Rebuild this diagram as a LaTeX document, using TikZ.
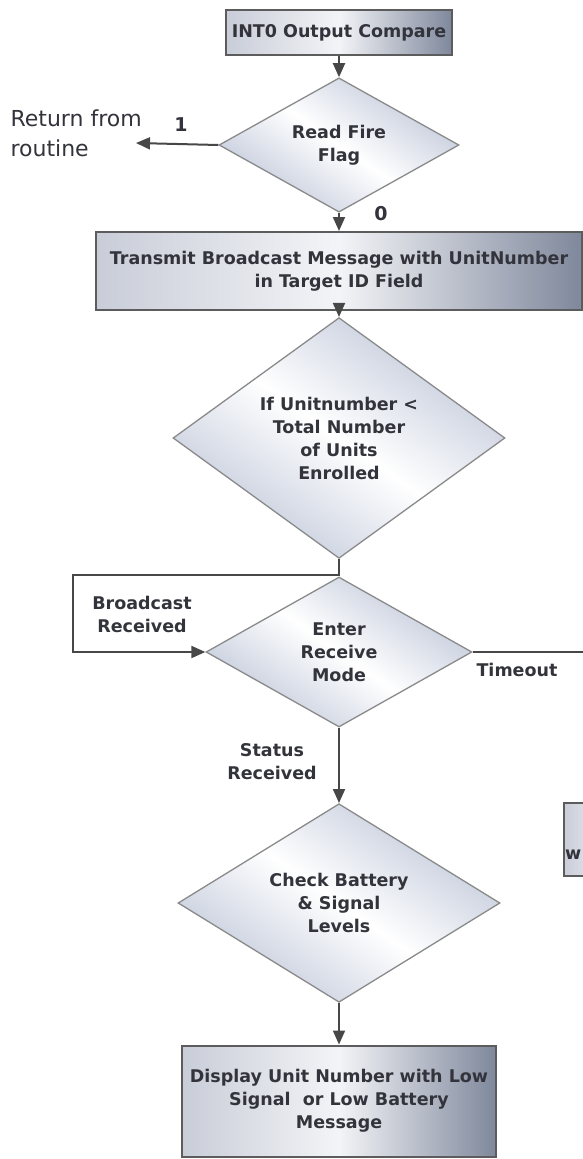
\documentclass[tikz,border=0pt]{standalone}
\usepackage{fontspec}
\setmainfont{DejaVu Sans}
\usetikzlibrary{shapes.geometric,arrows.meta}
\definecolor{boxedge}{HTML}{5C5C5C}
\definecolor{boxdark}{HTML}{7F889C}
\definecolor{boxlight}{HTML}{F3F4F7}
\definecolor{boxleft}{HTML}{C9CDD8}
\definecolor{diafill}{HTML}{BFC7D9}
\definecolor{diaedge}{HTML}{8A8A8A}
\definecolor{linegray}{HTML}{474747}
\definecolor{textgray}{HTML}{33333B}

\begin{document}
\begin{tikzpicture}[x=1pt,y=-1pt,>={Triangle[length=14pt,width=12pt]},
  procbox/.style={rectangle,draw=boxedge,line width=2pt,left color=boxleft,right color=boxdark,middle color=boxlight,
    align=center,inner sep=0pt,text=textgray,font=\bfseries\fontsize{17.5}{23}\selectfont},
  decide/.style={diamond,draw=diaedge,line width=1.3pt,top color=diafill,bottom color=diafill,middle color=white,
    shading angle=-35,align=center,inner sep=0pt,text=textgray,font=\bfseries\fontsize{17.5}{23}\selectfont},
  lbl/.style={align=center,text=textgray,font=\bfseries\fontsize{17.5}{23}\selectfont},
  flow/.style={draw=linegray,line width=2pt}]
\useasboundingbox (0,0) rectangle (583,1159);

\node[procbox,minimum width=226,minimum height=45] (int0) at (339,32.5) {INT0 Output Compare};
\node[decide,minimum width=240,minimum height=120] (readflag) at (339,145) {Read Fire\\Flag};
\node[procbox,minimum width=486,minimum height=78] (transmit) at (339,271) {Transmit Broadcast Message with UnitNumber\\in Target ID Field};
\node[decide,minimum width=332,minimum height=200] (ifunits) at (339,438) {If Unitnumber <\\Total Number\\of Units\\Enrolled};
\node[decide,minimum width=266,minimum height=150] (enter) at (339,652) {Enter\\Receive\\Mode};
\node[decide,minimum width=322,minimum height=190] (check) at (339,903) {Check Battery\\\& Signal\\Levels};
\node[procbox,minimum width=314,minimum height=111] (display) at (339,1101) {Display Unit Number with Low\\Signal\ \ or Low Battery\\Message};
\node[procbox,anchor=north west,minimum width=100,minimum height=73] (sidebox) at (563,802) {};
\node[lbl,anchor=west,inner sep=0pt] (sidetext) at (565,855) {w};

% labels
\node[anchor=west,align=left,text=textgray,font=\fontsize{22}{30}\selectfont] (ret) at (7,133) {Return from\\routine};
\node[lbl,font=\bfseries\fontsize{19}{23}\selectfont] (one) at (181,125) {1};
\node[lbl,font=\bfseries\fontsize{19}{23}\selectfont] (zero) at (381,214) {0};
\node[lbl] (bcast) at (142,614) {Broadcast\\Received};
\node[lbl] (tmo) at (517,670) {Timeout};
\node[lbl] (stat) at (272,762) {Status\\Received};

\coordinate (rettip) at (136,143);
\coordinate (loopnw) at (73,575);
\coordinate (tmoend) at (600,652);

\draw[flow,->] (int0) -- (readflag);
\draw[flow,->] (readflag.west) -- (rettip);
\draw[flow,->] (readflag) -- (transmit);
\draw[flow,->] (transmit) -- (ifunits);
\draw[flow] (ifunits.south) -- (enter.north);
\draw[flow,->] (ifunits.south) |- (loopnw) |- (enter.west);
\draw[flow] (enter.east) -- (tmoend);
\draw[flow,->] (enter) -- (check);
\draw[flow,->] (check) -- (display);
\end{tikzpicture}
\end{document}
